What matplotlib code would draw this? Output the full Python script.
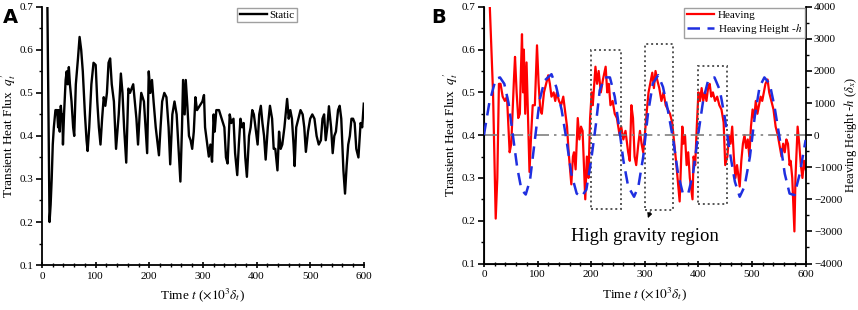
import numpy as np
import matplotlib.pyplot as plt
from matplotlib.patches import Rectangle
from matplotlib.ticker import MultipleLocator

plt.rcParams['font.family'] = ['Liberation Serif', 'DejaVu Serif']
plt.rcParams['mathtext.fontset'] = 'stix'

# --- panel A : static ---
static_t = [10, 12, 14, 16, 18, 20, 22, 25, 28, 30, 31, 33, 35, 37, 38, 39, 41, 44, 46, 48,
            50, 52, 55, 58, 60, 63, 67, 70, 73, 76, 80, 83, 85, 88, 92, 96, 100, 103, 106, 109,
            112, 115, 118, 121, 124, 127, 130, 134, 138, 143, 147, 150, 153, 157, 159, 161, 164, 167, 170, 173,
            176, 179, 182, 185, 190, 193, 196, 199, 202, 205, 208, 212, 218, 221, 224, 228, 232, 236, 239, 243,
            247, 251, 255, 258, 261, 263, 266, 268, 271, 274, 277, 280, 283, 286, 289, 294, 299, 302, 304, 307,
            311, 314, 317, 320, 322, 325, 330, 335, 340, 343, 346, 350, 353, 357, 360, 364, 367, 370, 373, 376,
            379, 382, 386, 389, 392, 395, 398, 402, 405, 408, 411, 414, 417, 421, 425, 429, 432, 435, 439, 442,
            445, 448, 452, 457, 460, 463, 466, 469, 471, 474, 478, 482, 486, 489, 492, 496, 500, 504, 508, 512,
            516, 520, 523, 526, 529, 532, 535, 539, 542, 545, 548, 552, 555, 558, 562, 565, 568, 571, 574, 577,
            580, 583, 586, 590, 594, 597, 600]
static_q = [0.70, 0.45, 0.20, 0.24, 0.30, 0.38, 0.42, 0.46, 0.46, 0.42, 0.46, 0.41, 0.47, 0.44, 0.45, 0.38, 0.45, 0.53, 0.55, 0.52,
            0.56, 0.52, 0.48, 0.42, 0.40, 0.52, 0.58, 0.63, 0.60, 0.55, 0.45, 0.39, 0.365, 0.42, 0.52, 0.57, 0.565, 0.48, 0.42, 0.38,
            0.44, 0.49, 0.47, 0.50, 0.57, 0.58, 0.52, 0.48, 0.37, 0.45, 0.545, 0.50, 0.42, 0.338, 0.42, 0.51, 0.50, 0.51, 0.52, 0.48,
            0.44, 0.38, 0.45, 0.50, 0.48, 0.42, 0.36, 0.55, 0.50, 0.53, 0.48, 0.42, 0.355, 0.42, 0.48, 0.50, 0.49, 0.42, 0.334, 0.45,
            0.48, 0.45, 0.36, 0.294, 0.42, 0.53, 0.45, 0.53, 0.47, 0.40, 0.39, 0.37, 0.41, 0.49, 0.46, 0.47, 0.48, 0.495, 0.42, 0.39,
            0.352, 0.38, 0.34, 0.45, 0.41, 0.46, 0.46, 0.44, 0.42, 0.35, 0.336, 0.45, 0.43, 0.44, 0.36, 0.309, 0.38, 0.44, 0.42, 0.43,
            0.35, 0.305, 0.40, 0.42, 0.46, 0.45, 0.42, 0.38, 0.45, 0.47, 0.43, 0.40, 0.345, 0.42, 0.47, 0.44, 0.37, 0.37, 0.32, 0.41,
            0.37, 0.38, 0.42, 0.486, 0.44, 0.46, 0.44, 0.38, 0.33, 0.42, 0.44, 0.46, 0.45, 0.42, 0.363, 0.41, 0.44, 0.45, 0.44, 0.40,
            0.38, 0.39, 0.44, 0.45, 0.39, 0.42, 0.469, 0.42, 0.36, 0.40, 0.41, 0.46, 0.47, 0.44, 0.32, 0.266, 0.33, 0.38, 0.40, 0.44,
            0.44, 0.43, 0.37, 0.35, 0.43, 0.42, 0.475]

# --- panel B : heaving ---
heave_t = [11, 14, 17, 22, 25, 28, 31, 35, 39, 43, 48, 51, 54, 56, 58, 61, 64, 67, 69, 71,
           73, 74.5, 77, 79.5, 82, 85, 88, 91, 95, 99, 102, 105, 108, 112, 116, 120, 123, 126, 130, 133,
           136, 140, 144, 148, 152, 155, 158, 163, 166, 168, 171, 175, 178, 181, 184, 189, 192, 195, 198, 201,
           203, 208, 211, 214, 218, 222, 227, 230, 233, 236, 240, 244, 248, 253, 256, 260, 264, 269, 272, 275,
           278, 281, 284, 288, 291, 294, 297, 300, 304, 307, 310, 314, 317, 320, 323, 327, 331, 335, 339, 343,
           347, 351, 355, 359, 365, 368, 370, 372, 375, 378, 381, 384, 389, 391, 394, 397, 400, 403, 406, 409,
           412, 415, 418, 421, 424, 427, 431, 435, 439, 443, 447, 450, 454, 457, 460, 463, 466, 469, 472, 477,
           480, 483, 486, 489, 492, 495, 498, 501, 504, 507, 510, 513, 516, 519, 522, 525, 529, 532, 536, 540,
           544, 548, 555, 558, 561, 564, 567, 570, 572, 575, 579, 581, 585, 588, 591, 594, 597, 600]
heave_q = [0.70, 0.60, 0.50, 0.205, 0.30, 0.52, 0.52, 0.49, 0.48, 0.49, 0.36, 0.38, 0.47, 0.53, 0.583, 0.50, 0.44, 0.45, 0.55, 0.636,
           0.50, 0.60, 0.45, 0.57, 0.45, 0.314, 0.40, 0.47, 0.47, 0.61, 0.52, 0.46, 0.45, 0.50, 0.52, 0.54, 0.52, 0.49, 0.50, 0.48,
           0.50, 0.48, 0.47, 0.49, 0.45, 0.42, 0.36, 0.285, 0.35, 0.36, 0.32, 0.44, 0.39, 0.42, 0.41, 0.25, 0.35, 0.30, 0.44, 0.50,
           0.47, 0.56, 0.52, 0.55, 0.50, 0.53, 0.56, 0.50, 0.52, 0.47, 0.48, 0.45, 0.44, 0.40, 0.42, 0.39, 0.41, 0.36, 0.34, 0.47,
           0.44, 0.35, 0.33, 0.38, 0.41, 0.38, 0.36, 0.40, 0.46, 0.50, 0.52, 0.546, 0.51, 0.55, 0.53, 0.51, 0.48, 0.50, 0.47, 0.46,
           0.45, 0.43, 0.38, 0.33, 0.245, 0.35, 0.42, 0.38, 0.40, 0.33, 0.36, 0.30, 0.25, 0.35, 0.33, 0.42, 0.50, 0.48, 0.51, 0.48,
           0.50, 0.48, 0.51, 0.52, 0.49, 0.50, 0.48, 0.49, 0.47, 0.46, 0.43, 0.33, 0.35, 0.40, 0.38, 0.42, 0.35, 0.30, 0.33, 0.28,
           0.34, 0.38, 0.40, 0.37, 0.39, 0.35, 0.42, 0.46, 0.44, 0.48, 0.45, 0.47, 0.49, 0.48, 0.50, 0.52, 0.53, 0.50, 0.48, 0.46,
           0.42, 0.40, 0.35, 0.38, 0.36, 0.39, 0.38, 0.33, 0.34, 0.30, 0.175, 0.30, 0.42, 0.38, 0.33, 0.30, 0.34, 0.32]

height_t = [0, 10, 22, 30, 38, 46, 54, 62, 70, 78, 86, 95, 104, 113, 126, 135, 145, 154, 163, 173,
            182, 191, 200, 209, 216, 225, 235, 244, 252, 260, 269, 280, 288, 297, 306, 315, 325, 334, 343, 353,
            362, 371, 381, 390, 399, 409, 418, 430, 440, 449, 458, 468, 477, 486, 496, 505, 514, 523, 533, 542,
            552, 561, 570, 579, 589, 600]
height_h = [0, 1000, 1750, 1800, 1600, 1000, 0, -1000, -1700, -1850, -1400, -150, 1100, 1700, 1900, 1500, 780, -150, -1200, -1820,
            -1920, -1700, -780, 360, 1400, 1800, 1800, 1200, 260, -780, -1600, -1920, -1600, -680, 680, 1610, 1870, 1500, 780, -150,
            -1200, -1820, -1820, -1200, -50, 1100, 1700, 1800, 1400, 570, -470, -1450, -1920, -1600, -680, 570, 1500, 1800, 1600, 880,
            -150, -1200, -1820, -1870, -1200, -150]

# high gravity boxes: (t start, t end, q bottom, q top)
boxes = [(200, 255, 0.227, 0.600), (300, 353, 0.226, 0.613), (399, 454, 0.238, 0.562)]

fig = plt.figure(figsize=(8.58, 3.10), dpi=100)
axA = fig.add_axes([0.049, 0.145, 0.375, 0.833])
axB = fig.add_axes([0.564, 0.150, 0.375, 0.828])

def style_axis(ax):
    ax.set_xlim(0, 600)
    ax.set_ylim(0.1, 0.7)
    ax.xaxis.set_major_locator(MultipleLocator(100))
    ax.xaxis.set_minor_locator(MultipleLocator(20))
    ax.yaxis.set_major_locator(MultipleLocator(0.1))
    ax.yaxis.set_minor_locator(MultipleLocator(0.05))
    ax.spines['top'].set_visible(False)
    ax.spines['right'].set_visible(False)
    for s in ('left', 'bottom'):
        ax.spines[s].set_linewidth(1.3)
    ax.tick_params(axis='both', which='major', labelsize=8, width=1.2, length=4, direction='out', pad=2)
    ax.tick_params(axis='both', which='minor', width=1.0, length=2.5, direction='out')
    ax.tick_params(axis='x', which='both', direction='inout', pad=3)
    ax.set_xticks([0, 100, 200, 300, 400, 500, 600])
    ax.set_xticklabels(['0', '100', '200', '300', '400', '500', '600'])
    ax.set_xlabel(r"Time $t$ ($\times10^3\delta_t$)", fontsize=9.5, labelpad=4)
    ax.set_ylabel(r"Transient Heat Flux  $q_t'$", fontsize=9.5, labelpad=1)

style_axis(axA)
axA.plot(static_t, static_q, color='black', lw=1.7, label='Static')
axA.legend(loc='upper center', bbox_to_anchor=(0.70, 1.0), fontsize=8, frameon=True, fancybox=False,
           edgecolor='#888888', handlelength=2.5, borderpad=0.2, handletextpad=0.2, borderaxespad=0.1)

style_axis(axB)
axR = axB.twinx()
axR.set_ylim(-4000, 4000)
axR.yaxis.set_major_locator(MultipleLocator(1000))
axR.yaxis.set_minor_locator(MultipleLocator(500))
axR.spines['top'].set_visible(False)
axR.spines['right'].set_linewidth(1.3)
axR.tick_params(axis='y', which='major', labelsize=8, width=1.2, length=4, direction='out', pad=2)
axR.tick_params(axis='y', which='minor', width=1.0, length=2.5, direction='out')
axR.set_ylabel(r"Heaving Height -$h$ ($\delta_x$)", fontsize=9, labelpad=0)

axR.axhline(0, color='#808080', lw=1.2, ls=(0, (8, 3, 1.5, 3)), zorder=1)
l1, = axR.plot([], [], color='red', lw=1.6, label='Heaving')
axB.plot(heave_t, heave_q, color='red', lw=1.6, zorder=2)
l2, = axR.plot(height_t, height_h, color='#1f2fe0', lw=1.8, ls=(0, (5, 3)), label=r"Heaving Height -$h$", zorder=3)

for t0, t1, q0, q1 in boxes:
    axB.add_patch(Rectangle((t0, q0), t1 - t0, q1 - q0, fill=False, ec='#555555', lw=1.4,
                            ls=(0, (1, 1.5)), zorder=4))
axB.annotate('', xy=(304, 0.200), xytext=(312, 0.227),
             arrowprops=dict(arrowstyle='-|>', color='black', lw=0.8, mutation_scale=7))
axB.text(300, 0.162, 'High gravity region', fontsize=13.5, ha='center', va='center')

axR.legend(handles=[l1, l2], loc='upper right', fontsize=8, frameon=True, fancybox=False,
           edgecolor='#888888', handlelength=2.5, borderpad=0.2, handletextpad=0.3, borderaxespad=0.1,
           labelspacing=0.2)

fig.text(0.003, 0.975, 'A', fontsize=14, fontweight='bold', family='DejaVu Sans', va='top')
fig.text(0.503, 0.975, 'B', fontsize=14, fontweight='bold', family='DejaVu Sans', va='top')

fig.savefig('out.png', dpi=100)
